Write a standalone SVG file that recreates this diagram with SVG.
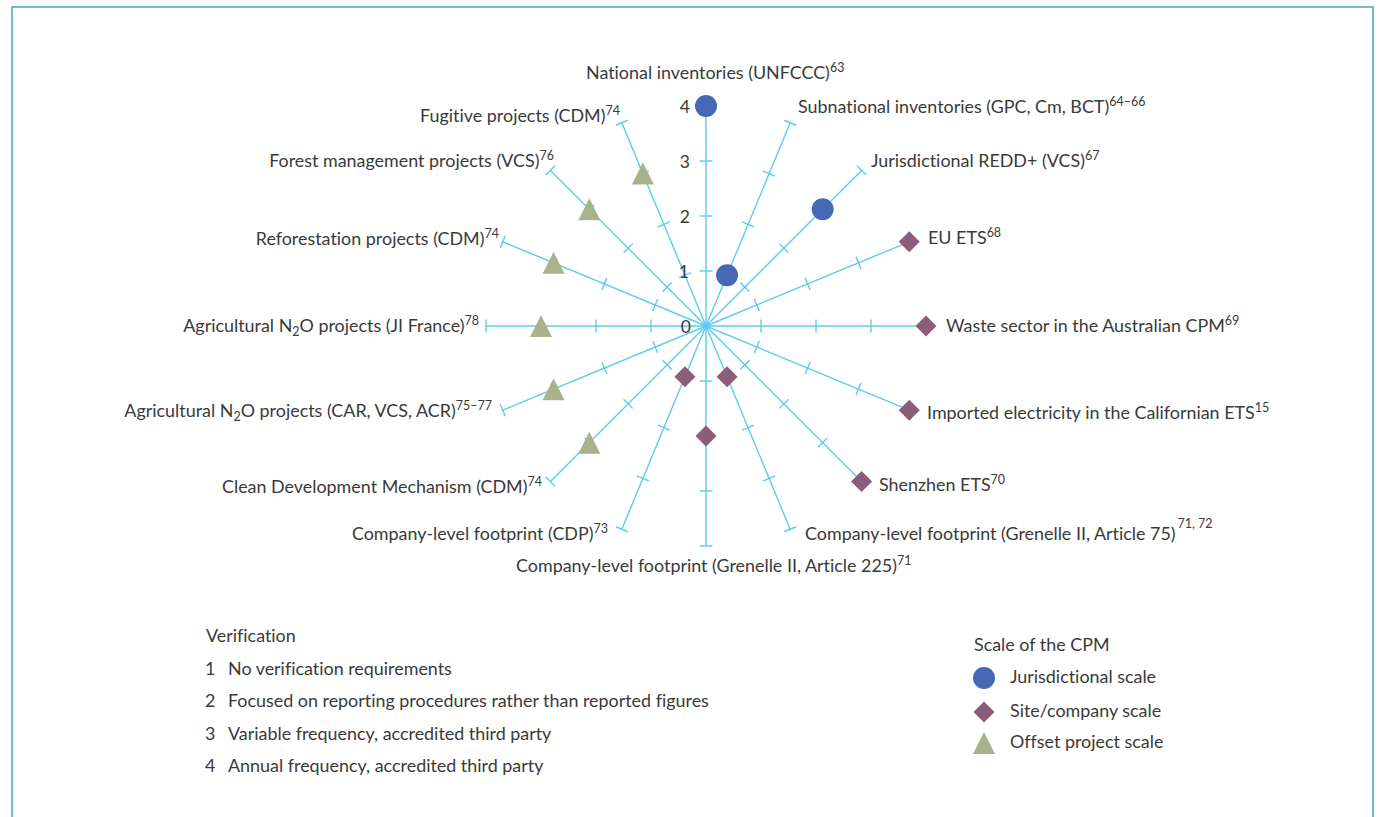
<svg xmlns="http://www.w3.org/2000/svg" xmlns:xlink="http://www.w3.org/1999/xlink" width="1380" height="817" viewBox="0 0 1380 817">
<style>
text{font-family:Lato,"Liberation Sans",sans-serif;font-size:17.9px;fill:#3a3a3a;font-variant-ligatures:none;font-feature-settings:"liga" 0}
.e{text-anchor:end}
.ax{font-size:17.5px;text-anchor:end}
.sp{stroke:#5ccbf0;stroke-width:1.4;fill:none}
.circ{fill:#4569b4}
.dia{fill:#8b5d79}
.tri{fill:#a8b38e}
</style>
<defs>
<g id="spoke" class="sp">
<line x1="0" y1="0" x2="0" y2="-220"/>
<line x1="-6.5" y1="-55" x2="6.5" y2="-55"/>
<line x1="-6.5" y1="-110" x2="6.5" y2="-110"/>
<line x1="-6.5" y1="-165" x2="6.5" y2="-165"/>
<line x1="-6.5" y1="-220" x2="6.5" y2="-220"/>
</g>
<circle id="mc" r="11" class="circ"/>
<path id="md" d="M0,-10.5L10.5,0L0,10.5L-10.5,0Z" class="dia"/>
<path id="mt" d="M0,-11L11,11L-11,11Z" class="tri"/>
</defs>
<rect x="12" y="7" width="1361" height="900" fill="#fff" stroke="#3fa8c8" stroke-width="1.5"/>

<g id="connectors">
<use xlink:href="#spoke" transform="translate(706,326) rotate(0)"/>
<use xlink:href="#spoke" transform="translate(706,326) rotate(22.5)"/>
<use xlink:href="#spoke" transform="translate(706,326) rotate(45)"/>
<use xlink:href="#spoke" transform="translate(706,326) rotate(67.5)"/>
<use xlink:href="#spoke" transform="translate(706,326) rotate(90)"/>
<use xlink:href="#spoke" transform="translate(706,326) rotate(112.5)"/>
<use xlink:href="#spoke" transform="translate(706,326) rotate(135)"/>
<use xlink:href="#spoke" transform="translate(706,326) rotate(157.5)"/>
<use xlink:href="#spoke" transform="translate(706,326) rotate(180)"/>
<use xlink:href="#spoke" transform="translate(706,326) rotate(202.5)"/>
<use xlink:href="#spoke" transform="translate(706,326) rotate(225)"/>
<use xlink:href="#spoke" transform="translate(706,326) rotate(247.5)"/>
<use xlink:href="#spoke" transform="translate(706,326) rotate(270)"/>
<use xlink:href="#spoke" transform="translate(706,326) rotate(292.5)"/>
<use xlink:href="#spoke" transform="translate(706,326) rotate(315)"/>
<use xlink:href="#spoke" transform="translate(706,326) rotate(337.5)"/>
<circle cx="706" cy="326" r="2.5" fill="#5ccbf0"/>
</g>

<g id="axis-labels">
<text class="ax" x="690" y="113">4</text>
<text class="ax" x="690" y="168">3</text>
<text class="ax" x="690" y="223">2</text>
<text class="ax" x="689" y="278">1</text>
<text class="ax" x="691" y="333">0</text>
</g>

<g id="n-national"><use xlink:href="#mc" x="706" y="106"/>
<text x="586" y="79">National inventories (UNFCCC)<tspan font-size="12.5" dy="-7">63</tspan></text></g>
<g id="n-subnational"><use xlink:href="#mc" x="727.05" y="275.19"/>
<text x="798" y="113">Subnational inventories (GPC, Cm, BCT)<tspan font-size="12.5" dy="-7">64–66</tspan></text></g>
<g id="n-redd"><use xlink:href="#mc" x="822.67" y="209.33"/>
<text x="871" y="167">Jurisdictional REDD+ (VCS)<tspan font-size="12.5" dy="-7">67</tspan></text></g>
<g id="n-euets"><use xlink:href="#md" x="909.25" y="241.81"/>
<text x="928" y="244">EU ETS<tspan font-size="12.5" dy="-7">68</tspan></text></g>
<g id="n-waste"><use xlink:href="#md" x="926" y="326"/>
<text x="946" y="332">Waste sector in the Australian CPM<tspan font-size="12.5" dy="-7">69</tspan></text></g>
<g id="n-california"><use xlink:href="#md" x="909.25" y="410.19"/>
<text x="927" y="419">Imported electricity in the Californian ETS<tspan font-size="12.5" dy="-7">15</tspan></text></g>
<g id="n-shenzhen"><use xlink:href="#md" x="861.56" y="481.56"/>
<text x="879" y="491">Shenzhen ETS<tspan font-size="12.5" dy="-7">70</tspan></text></g>
<g id="n-grenelle75"><use xlink:href="#md" x="727.05" y="376.81"/>
<text x="805" y="540">Company-level footprint (Grenelle II, Article 75)<tspan font-size="12.5" dy="-12" dx="2">71, 72</tspan></text></g>
<g id="n-grenelle225"><use xlink:href="#md" x="706" y="436"/>
<text x="516" y="572">Company-level footprint (Grenelle II, Article 225)<tspan font-size="12.5" dy="-7">71</tspan></text></g>
<g id="n-cdp"><use xlink:href="#md" x="684.95" y="376.81"/>
<text class="e" x="608" y="540">Company-level footprint (CDP)<tspan font-size="12.5" dy="-7">73</tspan></text></g>
<g id="n-cdm"><use xlink:href="#mt" x="589.33" y="442.67"/>
<text class="e" x="542" y="493">Clean Development Mechanism (CDM)<tspan font-size="12.5" dy="-7">74</tspan></text></g>
<g id="n-agri-car"><use xlink:href="#mt" x="553.56" y="389.14"/>
<text class="e" x="492" y="417">Agricultural N<tspan font-size="12.5" dy="4">2</tspan><tspan dy="-4">O projects (CAR, VCS, ACR)</tspan><tspan font-size="12.5" dy="-7">75–77</tspan></text></g>
<g id="n-agri-ji"><use xlink:href="#mt" x="541" y="326"/>
<text class="e" x="479" y="332">Agricultural N<tspan font-size="12.5" dy="4">2</tspan><tspan dy="-4">O projects (JI France)</tspan><tspan font-size="12.5" dy="-7">78</tspan></text></g>
<g id="n-reforestation"><use xlink:href="#mt" x="553.56" y="262.86"/>
<text class="e" x="499" y="245">Reforestation projects (CDM)<tspan font-size="12.5" dy="-7">74</tspan></text></g>
<g id="n-forest"><use xlink:href="#mt" x="589.33" y="209.33"/>
<text class="e" x="554" y="167">Forest management projects (VCS)<tspan font-size="12.5" dy="-7">76</tspan></text></g>
<g id="n-fugitive"><use xlink:href="#mt" x="642.86" y="173.56"/>
<text class="e" x="620" y="122">Fugitive projects (CDM)<tspan font-size="12.5" dy="-7">74</tspan></text></g>

<g id="legend-verification">
<text x="206" y="642">Verification</text>
<text x="205" y="675">1</text><text x="228" y="675">No verification requirements</text>
<text x="205" y="707">2</text><text x="228" y="707">Focused on reporting procedures rather than reported figures</text>
<text x="205" y="740">3</text><text x="228" y="740">Variable frequency, accredited third party</text>
<text x="205" y="772">4</text><text x="228" y="772">Annual frequency, accredited third party</text>
</g>
<g id="legend-scale">
<text x="974" y="651">Scale of the CPM</text>
<use xlink:href="#mc" x="984" y="678"/>
<text x="1010" y="683">Jurisdictional scale</text>
<use xlink:href="#md" x="984" y="712"/>
<text x="1010" y="717">Site/company scale</text>
<use xlink:href="#mt" x="984" y="743"/>
<text x="1010" y="748">Offset project scale</text>
</g>
</svg>
